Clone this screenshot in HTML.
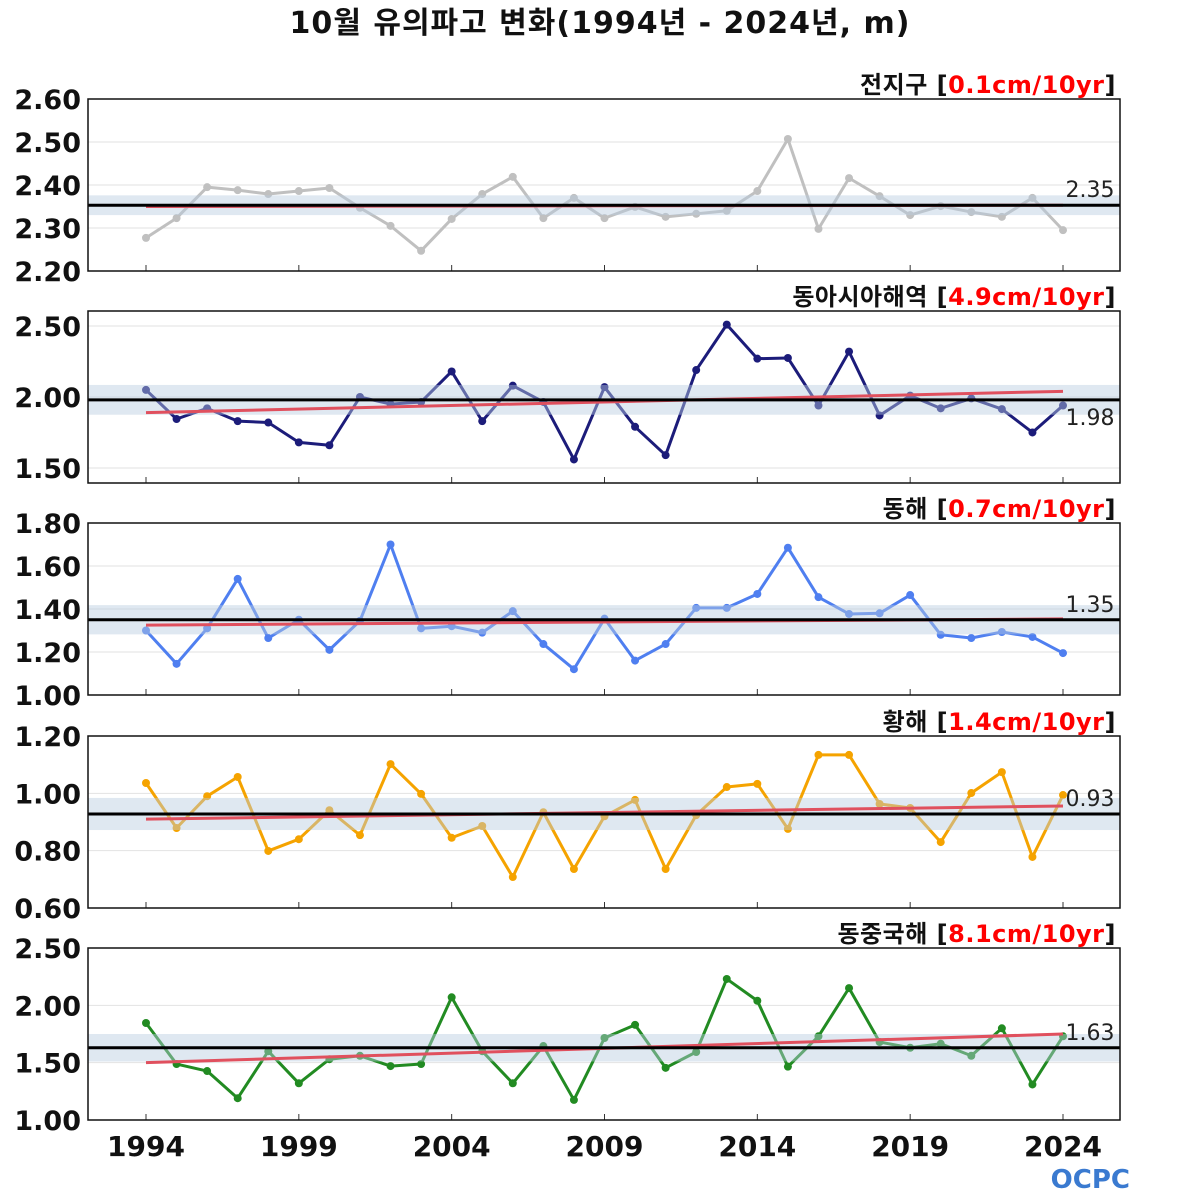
<!DOCTYPE html>
<html><head><meta charset="utf-8"><style>
body{margin:0;background:#fff;width:1200px;height:1200px;overflow:hidden}
svg{display:block}
text{font-family:"DejaVu Sans","Noto Sans CJK KR",sans-serif}
</style></head><body>
<svg id="chart" width="1200" height="1200" viewBox="0 0 1200 1200" xmlns="http://www.w3.org/2000/svg">
<text x="600" y="33" text-anchor="middle" font-size="30" font-weight="bold" fill="#111" letter-spacing="1">10월 유의파고 변화(1994년 - 2024년, m)</text>
<g id="panels"></g>
<text x="1130" y="1188" text-anchor="end" font-size="26" font-weight="bold" fill="#3a7ad0">OCPC</text>
</svg>
<script>
const years = Array.from({length:31},(_,i)=>1994+i);
const xTicks = [1994,1999,2004,2009,2014,2019,2024];
const globalVals = [2.277,2.323,2.395,2.388,2.379,2.386,2.393,2.347,2.305,2.247,2.321,2.379,2.419,2.323,2.370,2.323,2.349,2.326,2.333,2.340,2.386,2.507,2.298,2.416,2.374,2.330,2.351,2.337,2.326,2.370,2.295];
const eastAsiaVals = [2.05,1.845,1.92,1.83,1.82,1.68,1.66,2.00,1.95,1.965,2.18,1.83,2.08,1.965,1.56,2.07,1.79,1.59,2.19,2.51,2.27,2.275,1.94,2.32,1.87,2.01,1.92,1.99,1.915,1.75,1.94];
const eastSeaVals = [1.30,1.145,1.31,1.54,1.265,1.35,1.21,1.345,1.70,1.31,1.32,1.29,1.39,1.237,1.12,1.355,1.16,1.237,1.405,1.405,1.47,1.685,1.455,1.377,1.38,1.465,1.28,1.265,1.293,1.27,1.195];
const yellowSeaVals = [1.036,0.879,0.99,1.057,0.799,0.84,0.941,0.854,1.102,0.998,0.845,0.886,0.708,0.934,0.736,0.92,0.977,0.736,0.924,1.022,1.033,0.876,1.134,1.134,0.963,0.949,0.83,1.001,1.074,0.778,0.994];
const ecsVals = [1.846,1.488,1.427,1.19,1.60,1.32,1.53,1.56,1.47,1.488,2.07,1.60,1.32,1.645,1.175,1.715,1.83,1.455,1.593,2.23,2.04,1.465,1.73,2.15,1.68,1.63,1.665,1.56,1.80,1.31,1.73];
const panelNames = ["전지구","동아시아해역","동해","황해","동중국해"];
const trendLabels = ["0.1cm/10yr","4.9cm/10yr","0.7cm/10yr","1.4cm/10yr","8.1cm/10yr"];
const means = [2.353,1.98,1.35,0.928,1.63];
const bands = [0.023,0.105,0.068,0.056,0.12];
const trendStart = [2.35,1.89,1.325,0.91,1.50];
const trendEnd = [2.353,2.04,1.354,0.956,1.75];
const yMin = [2.20,1.394,1.00,0.60,1.00];
const yMax = [2.60,2.606,1.80,1.20,2.50];
const yTicks = [[2.20,2.30,2.40,2.50,2.60],[1.50,2.00,2.50],[1.00,1.20,1.40,1.60,1.80],[0.60,0.80,1.00,1.20],[1.00,1.50,2.00,2.50]];
const series = [globalVals,eastAsiaVals,eastSeaVals,yellowSeaVals,ecsVals];
const colors = ["#c0c0c0","#1c1c7a","#4f7ff0","#f5a300","#228b22"];
const tops = [99,311,523,736,948];
const labelBelow = [false,true,false,false,false];
const H = 172, X0 = 88, X1 = 1120;
const NS = "http://www.w3.org/2000/svg";
const root = document.getElementById('panels');
function mk(tag, attrs, parent){const e=document.createElementNS(NS,tag);for(const k in attrs)e.setAttribute(k,attrs[k]);parent.appendChild(e);return e;}
const xs = y => 146 + (y-1994)*(1063-146)/30;
for(let p=0;p<5;p++){
  const top=tops[p];
  const ys = v => top + H*(yMax[p]-v)/(yMax[p]-yMin[p]);
  const g = mk('g',{},root);
  
  
  for(const t of yTicks[p]){
    const gl=mk('line',{x1:X0,x2:X1,y1:ys(t),y2:ys(t),stroke:'#e2e2e2','stroke-width':1},g);
    
    
    const tl=mk('text',{x:81,y:ys(t)+10,'text-anchor':'end','font-size':27,'font-weight':'bold',fill:'#111'},g);
    tl.textContent=t.toFixed(2);
    
    
  }
  for(const t of xTicks){
    const tk=mk('line',{x1:xs(t),x2:xs(t),y1:top+H,y2:top+H-6,stroke:'#333','stroke-width':1},g);
    
    
  }
  const pts = series[p].map((v,i)=>xs(years[i])+','+ys(v)).join(' ');
  const ln=mk('polyline',{points:pts,fill:'none',stroke:colors[p],'stroke-width':3,'stroke-linejoin':'round'},g);
  
  
  series[p].forEach((v,i)=>{
    const c=mk('circle',{cx:xs(years[i]),cy:ys(v),r:4,fill:colors[p]},g);
    
    
  });
  const bd=mk('rect',{x:X0,width:X1-X0,y:ys(means[p]+bands[p]),height:ys(means[p]-bands[p])-ys(means[p]+bands[p]),fill:'#b8cce0','fill-opacity':0.45},g);
  
  
  const tr=mk('line',{x1:xs(1994),x2:xs(2024),y1:ys(trendStart[p]),y2:ys(trendEnd[p]),stroke:'#e0505e','stroke-width':3},g);
  
  
  const ml=mk('line',{x1:X0,x2:X1,y1:ys(means[p]),y2:ys(means[p]),stroke:'#000','stroke-width':3},g);
  
  
  const mt=mk('text',{x:1090,y:labelBelow[p]?ys(means[p])+25:ys(means[p])-8,'text-anchor':'middle','font-size':22,fill:'#222'},g);
  mt.textContent=means[p].toFixed(2);
  
  
  const fr=mk('rect',{x:X0,y:top,width:X1-X0,height:H,fill:'none',stroke:'#111','stroke-width':1.5},g);
  
  
  const tt=mk('text',{x:1116,y:top-6,'text-anchor':'end','font-size':24,'font-weight':'bold',fill:'#111','letter-spacing':0.5},g);
  
  
  const s1=mk('tspan',{},tt); s1.textContent=panelNames[p]+' [';
  const s2=mk('tspan',{fill:'#ff0000'},tt); s2.textContent=trendLabels[p];
  const s3=mk('tspan',{},tt); s3.textContent=']';
}
for(const t of xTicks){
  const xl=mk('text',{x:xs(t),y:1156,'text-anchor':'middle','font-size':28,'font-weight':'bold',fill:'#111'},root);
  xl.textContent=t;
  
  
}
</script>
</body></html>
